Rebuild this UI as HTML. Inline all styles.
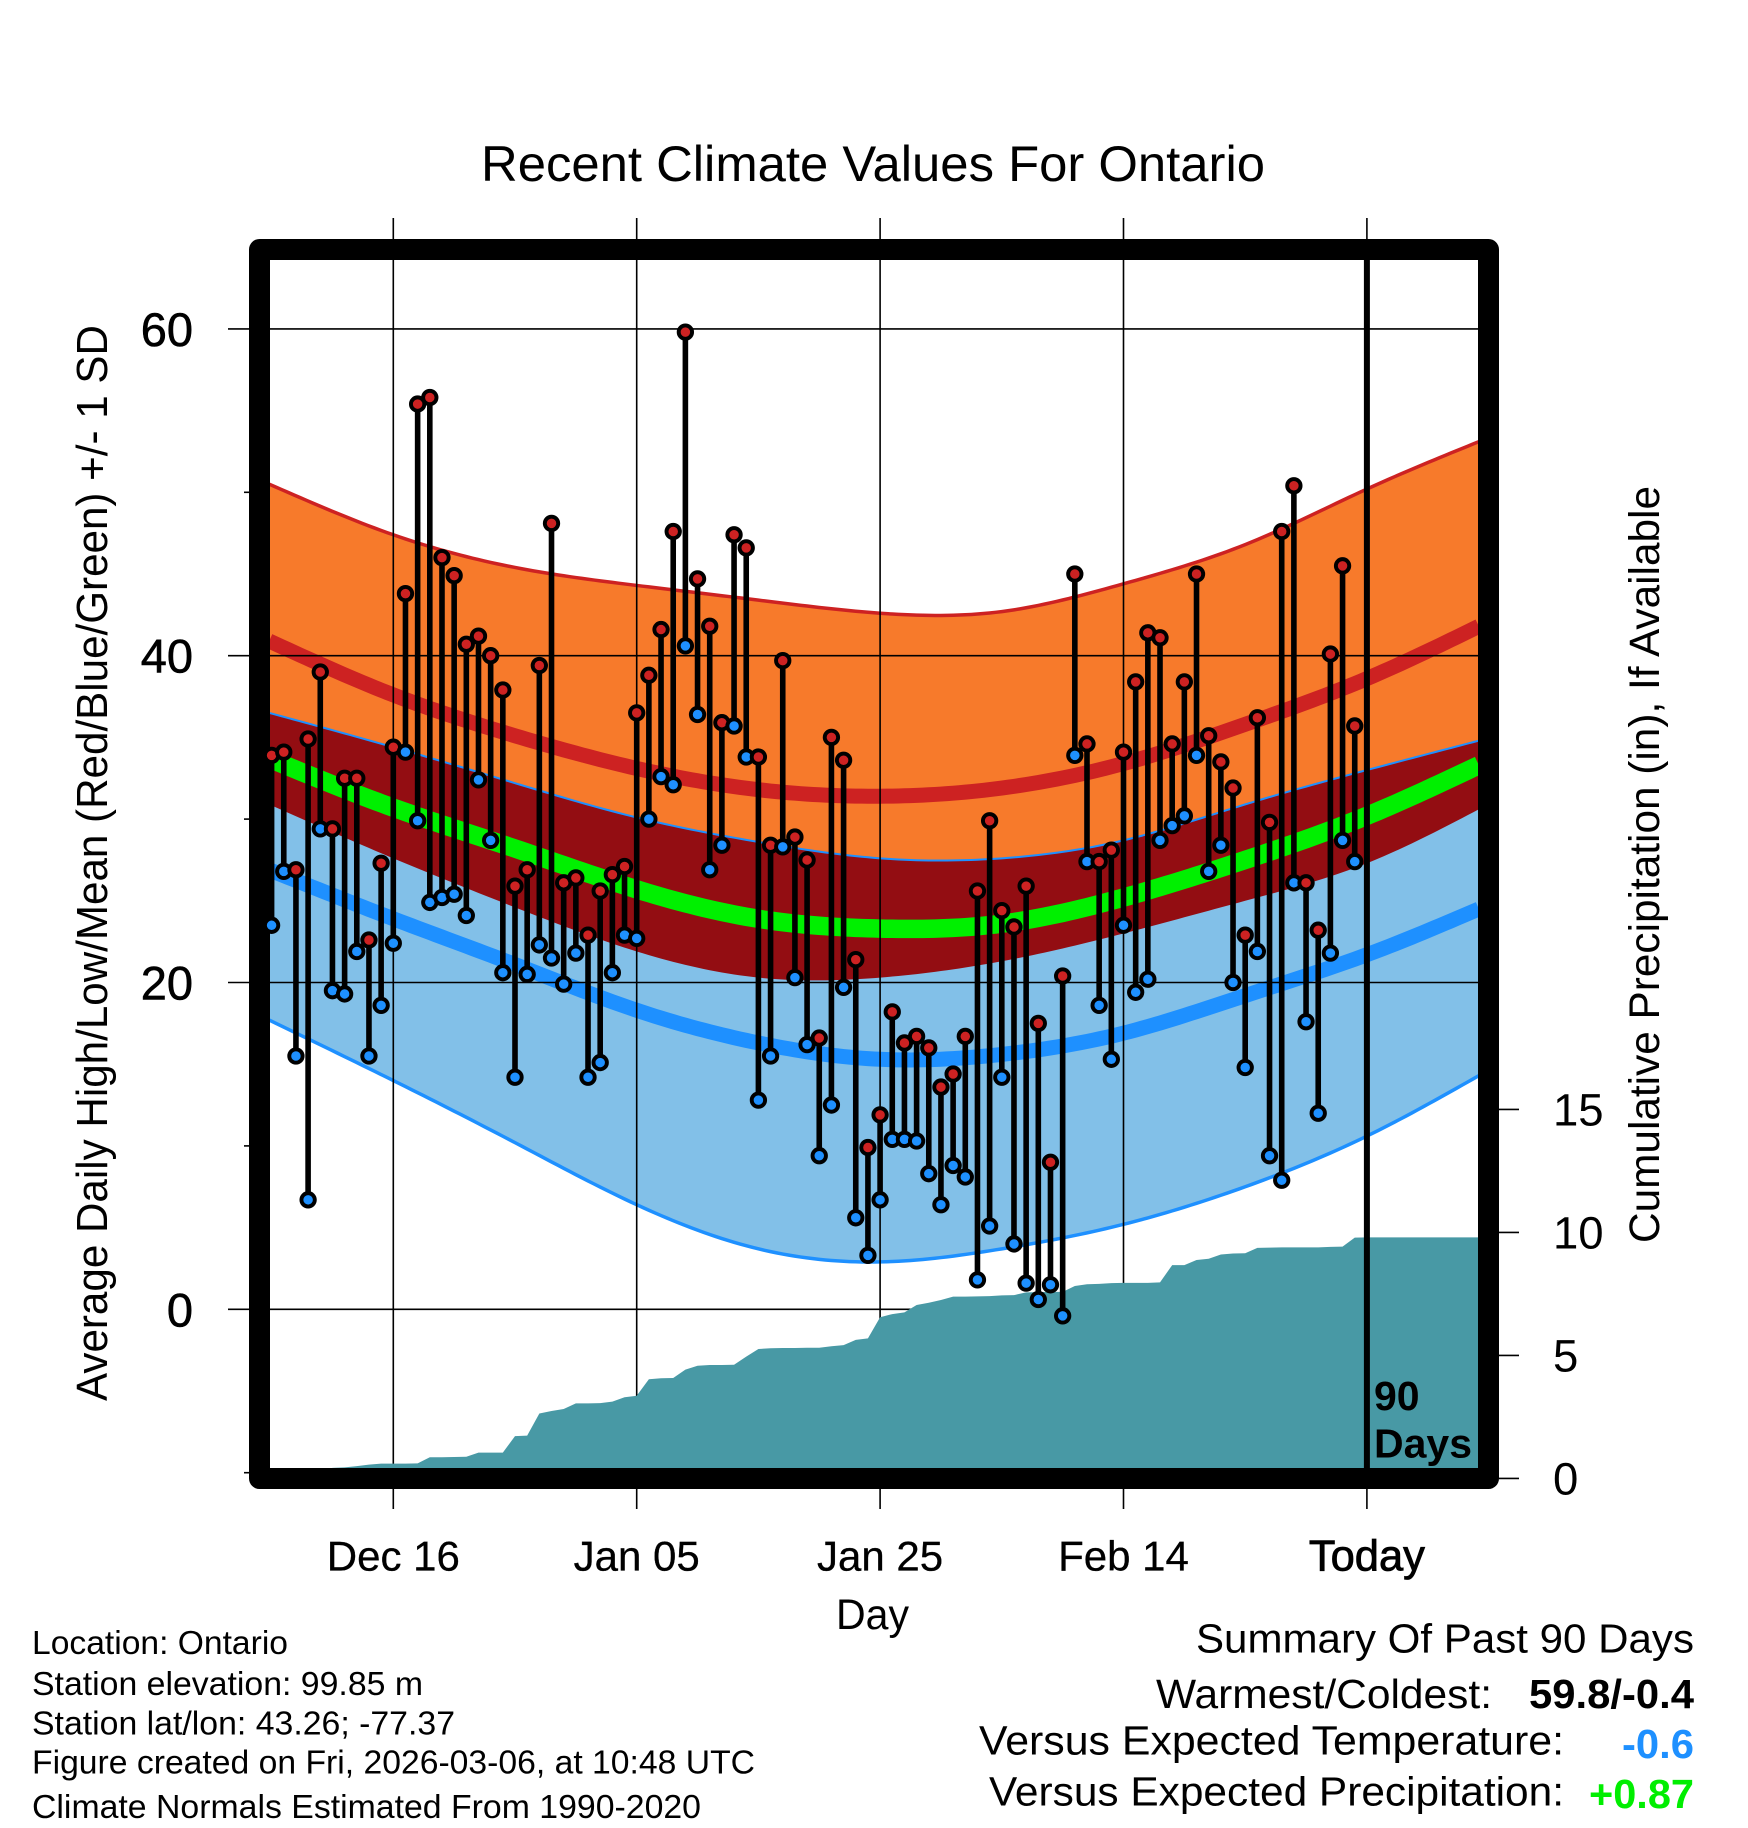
<!DOCTYPE html>
<html lang="en">
<head>
<meta charset="utf-8">
<title>Recent Climate Values For Ontario</title>
<style>
html,body{margin:0;padding:0;background:#fff;}
svg{display:block;}
text{font-family:"Liberation Sans",sans-serif;fill:#000;}
</style>
</head>
<body>
<svg id="chart" xmlns="http://www.w3.org/2000/svg" width="1748" height="1828" viewBox="0 0 1748 1828">
  <defs>
    <clipPath id="plot-clip"><rect x="270" y="260" width="1208" height="1208"/></clipPath>
  </defs>
  <g id="bands" clip-path="url(#plot-clip)"></g>
  <g id="grid"></g>
  <g id="precip" clip-path="url(#plot-clip)"></g>
  <rect x="259.5" y="249.5" width="1229" height="1229" fill="none" stroke="#000" stroke-width="21" stroke-linejoin="round"/>
  <g id="today"></g>
  <g id="stems"></g>
  <g id="points"></g>
  <g id="axis-labels"></g>

  <text x="481" y="181" font-size="50" textLength="784" lengthAdjust="spacingAndGlyphs">Recent Climate Values For Ontario</text>
  <text transform="translate(107,1401) rotate(-90)" font-size="44" textLength="1076" lengthAdjust="spacingAndGlyphs">Average Daily High/Low/Mean (Red/Blue/Green) +/- 1 SD</text>
  <text transform="translate(1659,1243) rotate(-90)" font-size="43" textLength="757" lengthAdjust="spacingAndGlyphs">Cumulative Precipitation (in), If Available</text>
  <text x="836" y="1629" font-size="43" textLength="73" lengthAdjust="spacingAndGlyphs">Day</text>
  <text x="1374" y="1410" font-size="41" font-weight="bold">90</text>
  <text x="1374" y="1457.5" font-size="41" font-weight="bold">Days</text>

  <g font-size="33.5">
    <text x="32" y="1654" textLength="256" lengthAdjust="spacingAndGlyphs">Location: Ontario</text>
    <text x="32" y="1695" textLength="391" lengthAdjust="spacingAndGlyphs">Station elevation: 99.85 m</text>
    <text x="32" y="1734.5" textLength="423" lengthAdjust="spacingAndGlyphs">Station lat/lon: 43.26; -77.37</text>
    <text x="32" y="1773.5" textLength="723" lengthAdjust="spacingAndGlyphs">Figure created on Fri, 2026-03-06, at 10:48 UTC</text>
    <text x="32" y="1818" textLength="669" lengthAdjust="spacingAndGlyphs">Climate Normals Estimated From 1990-2020</text>
  </g>

  <g font-size="41">
    <text x="1196" y="1652.5" textLength="498" lengthAdjust="spacingAndGlyphs">Summary Of Past 90 Days</text>
    <text x="1156" y="1708" textLength="336" lengthAdjust="spacingAndGlyphs">Warmest/Coldest:</text>
    <text x="1529" y="1708" font-weight="bold" textLength="165" lengthAdjust="spacingAndGlyphs">59.8/-0.4</text>
    <text x="979" y="1754.5" textLength="585" lengthAdjust="spacingAndGlyphs">Versus Expected Temperature:</text>
    <text x="1622" y="1758" font-weight="bold" style="fill:#1E90FF" textLength="72" lengthAdjust="spacingAndGlyphs">-0.6</text>
    <text x="989" y="1805.5" textLength="575" lengthAdjust="spacingAndGlyphs">Versus Expected Precipitation:</text>
    <text x="1589" y="1808" font-weight="bold" style="fill:#00EE00" textLength="105" lengthAdjust="spacingAndGlyphs">+0.87</text>
  </g>
</svg>

<script>
// ---- Chart data ----
const xTickDays = [10, 30, 50, 70, 90];
const xTickLabels = ["Dec 16", "Jan 05", "Jan 25", "Feb 14", "Today"];
const yMajorTicks = [60, 40, 20, 0];
const yMinorTicks = [50, 30, 10, -10];
const precipTicks = [0, 5, 10, 15];

// Day index of the normals curves (0 = first observation, 90 = today)
const normalDays = [-0.2, 10, 20, 30, 40, 50, 60, 70, 80, 90, 99.2];
const highUpper = [50.5, 47.4, 45.4, 44.3, 43.4, 42.6, 42.7, 44.4, 46.8, 50.2, 53.1];
const highMean  = [40.9, 37.6, 35.1, 33.1, 31.8, 31.4, 31.9, 33.4, 35.8, 38.6, 41.8];
const highLower = [30.9, 27.6, 24.6, 21.9, 20.3, 20.3, 21.3, 23.0, 25.0, 27.3, 30.6];
const lowUpper  = [36.5, 34.4, 32.2, 30.1, 28.6, 27.6, 27.6, 28.7, 30.9, 33.0, 34.8];
const dailyMean = [33.7, 30.7, 28.2, 25.7, 23.9, 23.3, 23.6, 25.2, 27.5, 30.2, 33.3];
const lowMean   = [26.9, 23.9, 21.1, 18.3, 16.3, 15.3, 15.6, 16.9, 19.2, 21.7, 24.5];
const lowLower  = [17.7, 14.0, 10.2, 6.4, 3.7, 2.9, 3.7, 5.2, 7.5, 10.6, 14.3];

const dailyHigh = [33.9,34.1,26.9,34.9,39.0,29.4,32.5,32.5,22.6,27.3,34.4,43.8,55.4,55.8,46.0,44.9,40.7,41.2,40.0,37.9,25.9,26.9,39.4,48.1,26.1,26.4,22.9,25.6,26.6,27.1,36.5,38.8,41.6,47.6,59.8,44.7,41.8,35.9,47.4,46.6,33.8,28.4,39.7,28.9,27.5,16.6,35.0,33.6,21.4,9.9,11.9,18.2,16.3,16.7,16.0,13.6,14.4,16.7,25.6,29.9,24.4,23.4,25.9,17.5,9.0,20.4,45.0,34.6,27.4,28.1,34.1,38.4,41.4,41.1,34.6,38.4,45.0,35.1,33.5,31.9,22.9,36.2,29.8,47.6,50.4,26.1,23.2,40.1,45.5,35.7];
const dailyLow = [23.5,26.8,15.5,6.7,29.4,19.5,19.3,21.9,15.5,18.6,22.4,34.1,29.9,24.9,25.2,25.4,24.1,32.4,28.7,20.6,14.2,20.5,22.3,21.5,19.9,21.8,14.2,15.1,20.6,22.9,22.7,30.0,32.6,32.1,40.6,36.4,26.9,28.4,35.7,33.8,12.8,15.5,28.3,20.3,16.2,9.4,12.5,19.7,5.6,3.3,6.7,10.4,10.4,10.3,8.3,6.4,8.8,8.1,1.8,5.1,14.2,4.0,1.6,0.6,1.5,-0.4,33.9,27.4,18.6,15.3,23.5,19.4,20.2,28.7,29.6,30.2,33.9,26.8,28.4,20.0,14.8,21.9,9.4,7.9,26.1,17.6,12.0,21.8,28.7,27.4];

const cumulativePrecip = [0,0,0,0,0,0.43,0.45,0.50,0.56,0.60,0.60,0.60,0.61,0.86,0.86,0.87,0.88,1.05,1.05,1.05,1.72,1.74,2.64,2.74,2.82,3.05,3.05,3.06,3.12,3.30,3.36,4.03,4.07,4.08,4.42,4.58,4.61,4.61,4.62,4.95,5.26,5.29,5.30,5.30,5.31,5.31,5.37,5.42,5.63,5.69,6.55,6.68,6.75,7.05,7.14,7.25,7.39,7.39,7.40,7.41,7.44,7.45,7.56,7.57,7.58,7.58,7.82,7.89,7.91,7.94,7.95,7.95,7.95,7.97,8.67,8.67,8.88,8.93,9.10,9.14,9.15,9.37,9.38,9.39,9.39,9.39,9.39,9.41,9.42,9.79,9.80];

// ---- Axis functions ----
function xScale(day) { return 393.3 + (day - 10) * 12.17; }
function yScale(value) { return 1309.3 - value * 16.34; }
function pScale(inches) { return 1478.4 - inches * 24.6; }

const NS = "http://www.w3.org/2000/svg";
function make(parentId, tag, attrs) {
  const node = document.createElementNS(NS, tag);
  for (const key in attrs) node.setAttribute(key, attrs[key]);
  document.getElementById(parentId).appendChild(node);
  return node;
}

// Natural cubic spline through the knots, evaluated along the day axis
function splineSamples(days, values) {
  const n = days.length;
  const y2 = new Array(n).fill(0);
  const u = new Array(n).fill(0);
  for (let i = 1; i < n - 1; i++) {
    const sig = (days[i] - days[i - 1]) / (days[i + 1] - days[i - 1]);
    const p = sig * y2[i - 1] + 2;
    y2[i] = (sig - 1) / p;
    const d = (values[i + 1] - values[i]) / (days[i + 1] - days[i]) - (values[i] - values[i - 1]) / (days[i] - days[i - 1]);
    u[i] = (6 * d / (days[i + 1] - days[i - 1]) - sig * u[i - 1]) / p;
  }
  for (let k = n - 2; k >= 0; k--) y2[k] = y2[k] * y2[k + 1] + u[k];
  const out = [];
  for (let k = 0; k < n - 1; k++) {
    const h = days[k + 1] - days[k];
    const steps = 20;
    for (let s = (k === 0 ? 0 : 1); s <= steps; s++) {
      const t = days[k] + h * s / steps;
      const a = (days[k + 1] - t) / h;
      const b = (t - days[k]) / h;
      const v = a * values[k] + b * values[k + 1] + ((a * a * a - a) * y2[k] + (b * b * b - b) * y2[k + 1]) * h * h / 6;
      out.push([xScale(t), yScale(v)]);
    }
  }
  return out;
}
function toPath(pairs) {
  return pairs.map(function (p, i) { return (i ? "L" : "M") + p[0].toFixed(2) + " " + p[1].toFixed(2); }).join("");
}
function linePath(values) {
  return toPath(splineSamples(normalDays, values));
}
function bandPath(upper, lower) {
  return toPath(splineSamples(normalDays, upper).concat(splineSamples(normalDays, lower).reverse())) + "Z";
}

// ---- Bands ----
let node;
node = make("bands", "path", { d: bandPath(highUpper, highLower), fill: "#F77A2B" });



node = make("bands", "path", { d: bandPath(lowUpper, lowLower), fill: "#82C0E8" });



node = make("bands", "path", { d: bandPath(lowUpper, highLower), fill: "#930D12" });



node = make("bands", "path", { d: linePath(highUpper), fill: "none", stroke: "#CD2222", "stroke-width": 3.5 });



node = make("bands", "path", { d: linePath(highMean), fill: "none", stroke: "#CD2222", "stroke-width": 15 });



node = make("bands", "path", { d: linePath(lowUpper), fill: "none", stroke: "#1E90FF", "stroke-width": 2 });



node = make("bands", "path", { d: linePath(dailyMean), fill: "none", stroke: "#00F000", "stroke-width": 18.5 });



node = make("bands", "path", { d: linePath(lowMean), fill: "none", stroke: "#1E90FF", "stroke-width": 15 });



node = make("bands", "path", { d: linePath(lowLower), fill: "none", stroke: "#1E90FF", "stroke-width": 3.5 });



// ---- Grid and ticks ----
yMajorTicks.forEach(function (v) {
  const line = make("grid", "line", { x1: 228, x2: 1478, y1: yScale(v), y2: yScale(v), stroke: "#000", "stroke-width": 1.6 });
  
  
  const label = make("axis-labels", "text", { x: 193, y: yScale(v) + 17, "font-size": 47, "text-anchor": "end", style: "stroke:#000;stroke-width:.6px" });
  
  
  label.textContent = String(v);
});
yMinorTicks.forEach(function (v) {
  const tick = make("grid", "line", { x1: 244, x2: 250, y1: yScale(v), y2: yScale(v), stroke: "#000", "stroke-width": 1.6 });
  
  
});
xTickDays.forEach(function (d, i) {
  const line = make("grid", "line", { x1: xScale(d), x2: xScale(d), y1: 218, y2: 1509, stroke: "#000", "stroke-width": 1.6 });
  
  
  const label = make("axis-labels", "text", { x: xScale(d), y: 1570.5, "font-size": d === 90 ? 43.5 : 42, "text-anchor": "middle", style: d === 90 ? "stroke:#000;stroke-width:.8px" : "stroke:#000;stroke-width:.3px" });
  
  
  label.textContent = xTickLabels[i];
});
precipTicks.forEach(function (p) {
  const tick = make("axis-labels", "line", { x1: 1499, x2: 1519, y1: pScale(p), y2: pScale(p), stroke: "#000", "stroke-width": 1.6 });
  
  
  const label = make("axis-labels", "text", { x: 1553, y: pScale(p) + 16, "font-size": 45.5 });
  
  
  label.textContent = String(p);
});

// ---- Cumulative precipitation ----
let precipD = "M" + xScale(0) + " 1480";
cumulativePrecip.forEach(function (p, i) {
  precipD += "L" + xScale(i) + " " + pScale(p);
});
precipD += "L1480 " + pScale(cumulativePrecip[cumulativePrecip.length - 1]) + "L1480 1480Z";
node = make("precip", "path", { d: precipD, fill: "#4899A5" });



// ---- Today line ----
node = make("today", "line", { x1: xScale(90), x2: xScale(90), y1: 260, y2: 1468, stroke: "#000", "stroke-width": 6 });



// ---- Daily stems and points ----
dailyHigh.forEach(function (hi, i) {
  const lo = dailyLow[i];
  const stem = make("stems", "line", { x1: xScale(i), x2: xScale(i), y1: yScale(hi), y2: yScale(lo), stroke: "#000", "stroke-width": 5.6 });
  
  
});
dailyHigh.forEach(function (hi, i) {
  const lo = dailyLow[i];
  const low = make("points", "circle", { cx: xScale(i), cy: yScale(lo), r: 6.7, fill: "#1E90FF", stroke: "#000", "stroke-width": 3.9 });
  
  
  const high = make("points", "circle", { cx: xScale(i), cy: yScale(hi), r: 6.7, fill: "#CD2222", stroke: "#000", "stroke-width": 3.9 });
  
  
});
</script>
</body>
</html>
